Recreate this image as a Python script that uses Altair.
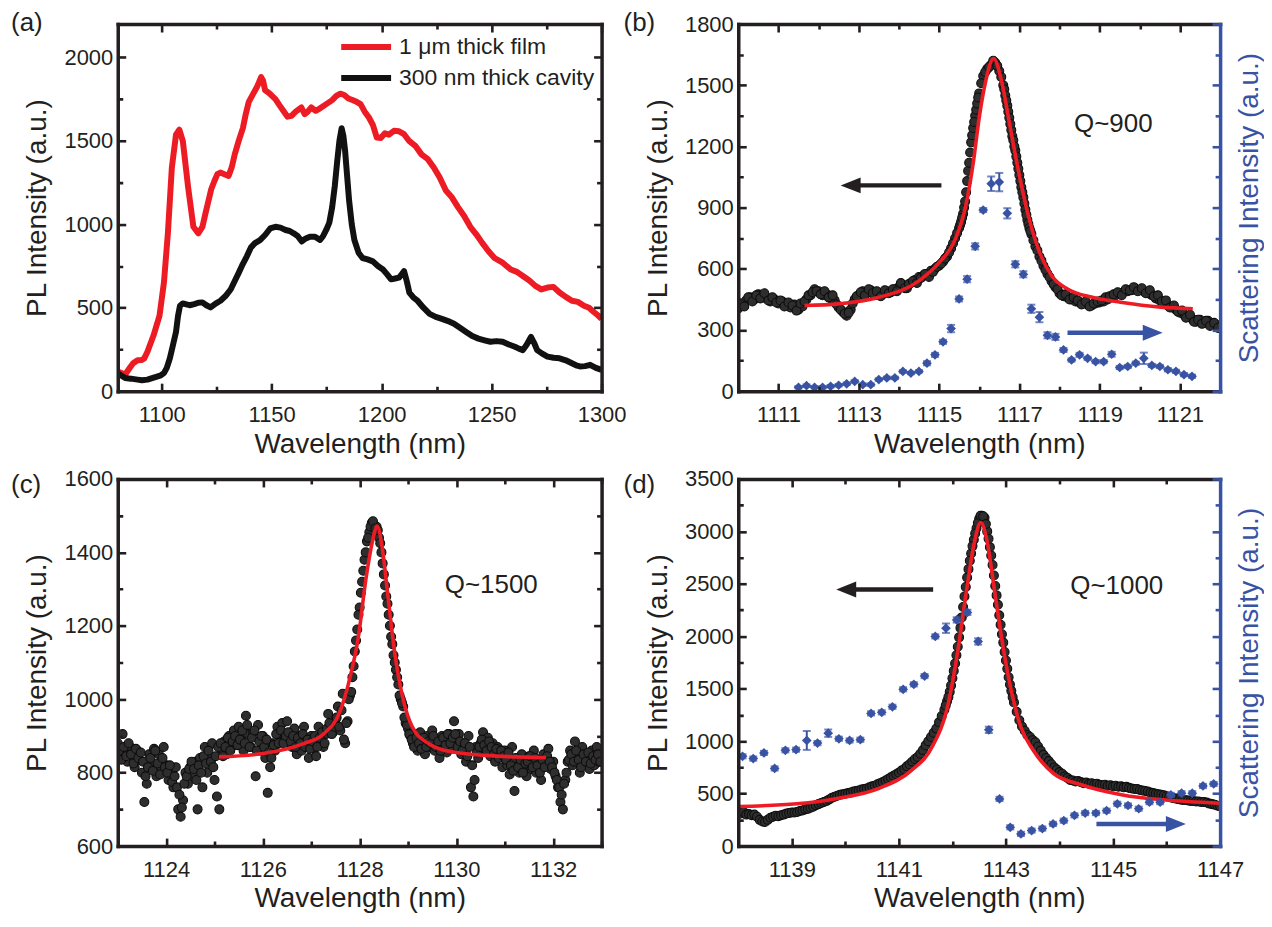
import altair as alt
import pandas as pd

INK = "#231f20"
RED = "#ed1c24"
BLUE = "#3953a4"
DOT = "#2e2e2e"
FONT = "Liberation Sans"

# ---------------- panel (a) ----------------
a_series = ["1 μm thick film", "300 nm thick cavity"]
a_film_wl = [1080, 1083.4, 1085.5, 1087, 1089, 1090.8, 1092, 1093.5, 1096.3, 1099,
             1101, 1102.8, 1104.6, 1106.5, 1108, 1109.6, 1112, 1114.4, 1116.6, 1118.5,
             1119.8, 1121.3, 1122.5, 1124, 1125.3, 1126.7, 1128.5, 1130.4, 1131.8, 1133.2,
             1135, 1136.9, 1138.2, 1139.6, 1141.5, 1143.3, 1144.2, 1145.2, 1146.1, 1147,
             1148.5, 1149.9, 1151.7, 1153.5, 1155.3, 1157.2, 1159, 1160.9, 1163.5, 1165,
             1166.4, 1168, 1170, 1172, 1174.8, 1177.5, 1179.4, 1181.2, 1183, 1184.9,
             1186.7, 1188.6, 1190.4, 1192.3, 1194.2, 1196, 1197.8, 1199.6, 1201.5, 1203.3,
             1205.6, 1207.9, 1210.2, 1212.6, 1215.3, 1218.1, 1221, 1223.7, 1226.4, 1229.2,
             1232, 1234.7, 1237.5, 1240.3, 1243, 1245.8, 1248.5, 1251.3, 1255, 1258.7,
             1261.5, 1264.2, 1267, 1269.9, 1272.6, 1275.4, 1278.1, 1280.9, 1283.7, 1286.5,
             1289.2, 1292, 1294.3, 1296.6, 1298.3, 1300]
a_film_pl = [118, 100, 140, 167, 185, 187, 195, 236, 335, 453,
             650, 946, 1340, 1537, 1567, 1498, 1222, 985, 946, 985,
             1060, 1143, 1210, 1261, 1300, 1310, 1300, 1290, 1340, 1419,
             1500, 1576, 1660, 1734, 1780, 1823, 1850, 1882, 1860, 1803,
             1790, 1773, 1750, 1714, 1680, 1645, 1650, 1675, 1700, 1660,
             1675, 1700, 1680, 1695, 1720, 1744, 1770, 1783, 1775, 1754,
             1745, 1734, 1720, 1675, 1640, 1596, 1520, 1517, 1545, 1537,
             1560, 1557, 1540, 1498, 1470, 1419, 1390, 1340, 1280, 1202,
             1160, 1103, 1050, 985, 940, 887, 840, 798, 770, 729,
             715, 690, 665, 631, 610, 621, 625, 591, 565, 542,
             535, 512, 500, 473, 455, 433]
a_cav_wl = [1080, 1083.4, 1086, 1089, 1091, 1093.5, 1096, 1098.2, 1099.6, 1101,
            1102.3, 1103.7, 1105, 1106.5, 1107.4, 1108.3, 1109.5, 1110.7, 1112.7, 1114.8,
            1116.6, 1118.5, 1120.3, 1122.2, 1124.5, 1126.7, 1129, 1131.4, 1133.2, 1135,
            1136.8, 1138.7, 1140.5, 1142.4, 1144.7, 1147, 1149.3, 1151.7, 1154, 1156.3,
            1158.2, 1160, 1161.8, 1163.7, 1165.5, 1167.4, 1169.7, 1172, 1173.4, 1174.8,
            1176.2, 1177.5, 1178.7, 1179.8, 1180.8, 1181.8, 1182.6, 1183.4, 1184.3, 1185.2,
            1186.4, 1187.6, 1189.5, 1191.3, 1193.6, 1196, 1198.3, 1200.6, 1202.5, 1204.3,
            1206.1, 1207.9, 1209.1, 1210.2, 1211.4, 1212.6, 1214.5, 1216.3, 1219, 1221.8,
            1224.6, 1227.4, 1230.2, 1232.9, 1235.6, 1238.4, 1241.2, 1244, 1246.8, 1249.5,
            1252.2, 1255, 1257.8, 1260.6, 1262.4, 1264.2, 1266, 1267.9, 1269.3, 1270.7,
            1273, 1275.4, 1278.2, 1280.9, 1283.7, 1286.5, 1288.4, 1290.2, 1292.5, 1294.8,
            1297.4, 1300]
a_cav_pl = [108, 79, 75, 69, 65, 69, 80, 89, 95, 108,
            140, 197, 270, 355, 450, 512, 525, 522, 515, 522,
            530, 532, 515, 502, 525, 542, 570, 611, 660, 709,
            760, 808, 860, 887, 905, 936, 975, 985, 980, 966,
            960, 946, 930, 897, 915, 926, 925, 906, 930, 966,
            1010, 1103, 1230, 1379, 1500, 1576, 1530, 1438, 1290, 1143,
            1000, 906, 830, 798, 790, 778, 750, 729, 700, 670,
            675, 680, 700, 719, 660, 591, 560, 542, 500, 463,
            445, 433, 420, 404, 380, 355, 330, 315, 305, 296,
            300, 296, 280, 266, 255, 246, 280, 325, 290, 246,
            225, 207, 200, 197, 185, 167, 155, 148, 150, 158,
            140, 128]
a_x_ticks = [1100, 1125, 1150, 1175, 1200, 1225, 1250, 1275, 1300]
a_x_major = [1100, 1150, 1200, 1250, 1300]
a_y_ticks = [0, 250, 500, 750, 1000, 1250, 1500, 1750, 2000]
a_y_major = [0, 500, 1000, 1500, 2000]

# ---------------- panel (b) ----------------
b_pl_start, b_pl_step = 1110.0, 0.1
b_pl = [405, 420, 445, 460, 450, 475, 470, 455, 440, 450,
        430, 440, 420, 410, 425, 400, 415, 450, 470, 500,
        490, 470, 475, 455, 445, 410, 390, 370, 400, 450,
        470, 490, 480, 495, 470, 480, 475, 490, 485, 500,
        510, 520, 505, 530, 545, 560, 565, 575, 590, 600,
        615, 635, 660, 700, 750, 800, 870, 1030, 1220, 1350,
        1460, 1545, 1580, 1600, 1610, 1570, 1500, 1400, 1280, 1180,
        1060, 950, 840, 770, 710, 660, 615, 575, 540, 510,
        480, 465, 460, 450, 440, 435, 430, 425, 420, 430,
        435, 440, 450, 465, 470, 480, 485, 490, 495, 500,
        495, 490, 480, 470, 455, 445, 430, 420, 410, 400,
        385, 375, 365, 355, 340, 350, 335, 345, 330, 325,
        320]
b_fill1_start, b_fill2_start = 1110.05, 1117.45
b_fill1 = [430, 415, 460, 440, 470, 455, 480, 445, 460, 435,
           445, 415, 435, 420, 395, 430, 440, 470, 485, 490,
           475, 490, 460, 470, 425, 400, 380, 385, 430, 465,
           485, 470, 500, 480, 490, 465, 495, 480, 500, 490,
           530, 505, 525, 540, 530, 555, 575, 560, 585, 610,
           625, 650, 680, 725, 775]
b_fill2 = [690, 640, 595, 560, 525, 500,
           470, 475, 450, 460, 445, 425, 440, 415, 430, 440,
           445, 460, 465, 475, 485, 470, 500, 495, 510, 490,
           505, 480, 495, 465, 470, 440, 445, 410, 420, 390,
           395, 360, 375, 340, 350, 330, 345, 320, 335, 310]
b_pk_wl = [1115.525, 1115.55, 1115.575, 1115.625, 1115.65, 1115.675, 1115.725, 1115.75, 1115.775, 1115.825,
           1115.85, 1115.875, 1115.925, 1115.95, 1115.975, 1116.05, 1116.15, 1116.25, 1116.35, 1116.45,
           1116.55, 1116.625, 1116.65, 1116.675, 1116.725, 1116.75, 1116.775, 1116.825, 1116.85, 1116.875,
           1116.925, 1116.95, 1116.975, 1117.025, 1117.05, 1117.075, 1117.125, 1117.15, 1117.175, 1117.225,
           1117.25, 1117.275, 1117.35]
b_pk_pl = [815, 830, 850, 900, 930, 975, 1080, 1120, 1170, 1255,
           1290, 1320, 1380, 1410, 1440, 1510, 1565, 1590, 1620, 1595,
           1540, 1480, 1450, 1425, 1370, 1340, 1310, 1250, 1230, 1200,
           1150, 1120, 1090, 1030, 1000, 975, 920, 890, 865, 820,
           800, 785, 740]
b_fit_wl = [1111.65, 1112.5, 1113.5, 1114.5, 1115, 1115.4, 1115.66, 1115.86, 1116.0, 1116.16,
            1116.36, 1116.56, 1116.76, 1116.96, 1117.21, 1117.51, 1117.81, 1118.21, 1118.82, 1119.52,
            1120.52, 1121.32]
b_fit_pl = [420, 428, 460, 541, 630, 743, 904, 1130, 1340, 1518,
            1631, 1518, 1308, 1098, 872, 678, 565, 500, 460, 436,
            412, 404]
b_sc_wl = [1111.5, 1111.7, 1111.9, 1112.1, 1112.3, 1112.5, 1112.7, 1112.9, 1113.1, 1113.3,
           1113.5, 1113.7, 1113.9, 1114.1, 1114.3, 1114.5, 1114.7, 1114.9, 1115.1, 1115.3,
           1115.5, 1115.7, 1115.9, 1116.1, 1116.3, 1116.5, 1116.7, 1116.9, 1117.1, 1117.3,
           1117.5, 1117.7, 1117.9, 1118.1, 1118.3, 1118.5, 1118.7, 1118.9, 1119.1, 1119.3,
           1119.5, 1119.7, 1119.9, 1120.1, 1120.3, 1120.5, 1120.7, 1120.9, 1121.1, 1121.3]
b_sc = [19, 27, 19, 19, 24, 29, 36, 48, 32, 32,
        57, 65, 65, 97, 89, 97, 137, 178, 242, 307,
        452, 549, 710, 888, 1017, 1025, 872, 622, 573, 404,
        363, 274, 266, 202, 153, 178, 161, 145, 145, 181,
        116, 121, 137, 161, 126, 121, 105, 97, 81, 73]
b_sc_err = [6, 6, 6, 6, 6, 6, 6, 6, 6, 6,
            6, 6, 6, 6, 6, 6, 10, 10, 10, 18,
            12, 15, 15, 10, 35, 45, 25, 15, 15, 20,
            25, 15, 15, 10, 8, 10, 8, 8, 8, 12,
            8, 8, 8, 28, 8, 8, 8, 8, 8, 8]
b_x_ticks = [1110, 1111, 1112, 1113, 1114, 1115, 1116, 1117, 1118, 1119, 1120, 1121, 1122]
b_x_major = [1111, 1113, 1115, 1117, 1119, 1121]
b_y_ticks = [0, 150, 300, 450, 600, 750, 900, 1050, 1200, 1350, 1500, 1650, 1800]
b_y_major = [0, 300, 600, 900, 1200, 1500, 1800]

# ---------------- panel (c) ----------------
c_pl_start, c_pl_step = 1123.0, 0.05
c_pl = [880, 850, 905, 860, 830, 870, 845, 815, 860, 835,
        800, 720, 770, 850, 820, 865, 790, 850, 810, 870,
        820, 780, 805, 760, 815, 700, 680, 725, 800, 770,
        815, 790, 830, 700, 840, 760, 870, 800, 845, 880,
        780, 735, 700, 860, 885, 850, 900, 870, 915, 880,
        925, 890, 860, 955, 905, 870, 910, 790, 930, 860,
        900, 840, 745, 815, 880, 860, 925, 900, 935, 890,
        940, 905, 870, 920, 850, 900, 860, 925, 880, 840,
        900, 865, 845, 925, 880, 870, 905, 960, 930, 910,
        945, 980, 915, 1015, 880, 940, 1010, 1060, 1130, 1190,
        1250, 1320, 1380, 1430, 1455, 1480, 1475, 1470, 1440, 1400,
        1340, 1280, 1230, 1170, 1120, 1080, 1040, 1000, 980, 935,
        920, 900, 880, 905, 860, 910, 880, 850, 900, 870,
        915, 860, 890, 840, 900, 870, 855, 905, 865, 940,
        880, 905, 850, 870, 830, 900, 760, 735, 870, 840,
        880, 910, 860, 895, 845, 880, 830, 870, 850, 815,
        860, 820, 795, 870, 750, 830, 800, 850, 815, 790,
        845, 810, 860, 800, 835, 780, 850, 820, 865, 810,
        830, 790, 760, 720, 700, 780, 830, 860, 820, 885,
        850, 800, 870, 830, 845, 810, 860, 820, 870, 830,
        845]
c_fill1_start, c_fill2_start = 1123.025, 1128.975
c_fill1 = [860, 835, 870, 845, 880, 850, 825, 865, 840, 855,
           830, 790, 815, 840, 805, 860, 825, 795, 840, 815,
           800, 820, 775, 790, 760, 740, 705, 770, 790, 810,
           830, 810, 780, 820, 800, 845, 825, 860, 830, 815,
           845, 870, 880, 845, 870, 895, 860, 885, 900, 875,
           890, 915, 880, 930, 870, 895, 915, 860, 885, 900,
           870, 890, 855, 840, 875, 905, 880, 915, 880, 900,
           910, 885, 900, 870, 895, 880, 905, 870, 890, 865,
           885, 900, 870, 895, 910, 880, 920, 935, 905, 925,
           950, 925, 970]
c_fill2 = [930, 905, 890, 870, 895, 880, 865, 895, 870, 885,
           880, 900, 870, 885, 860, 895, 875, 905, 880, 895,
           905, 870, 885, 860, 880, 845, 870, 820, 780, 855,
           870, 890, 875, 860, 885, 870, 850, 865, 840, 860,
           845, 835, 855, 820, 805, 840, 815, 835, 800, 825,
           830, 845, 815, 840, 820, 800, 835, 815, 845, 830,
           815, 800, 780, 760, 740, 770, 800, 835, 850, 830,
           860, 835, 815, 850, 830, 855, 825, 845, 835, 850,
           830]
c_pk_wl = [1127.675, 1127.725, 1127.775, 1127.825, 1127.875, 1127.925, 1127.975, 1128.025, 1128.075, 1128.125,
           1128.175, 1128.225, 1128.275, 1128.325, 1128.375, 1128.425, 1128.475, 1128.525, 1128.575, 1128.625,
           1128.675, 1128.725, 1128.775, 1128.825, 1128.875, 1128.925]
c_pk_pl = [890, 935, 1000, 1020, 1090, 1160, 1230, 1290, 1350, 1400,
           1440, 1470, 1485, 1465, 1460, 1425, 1370, 1310, 1260, 1200,
           1150, 1100, 1060, 1010, 990, 950]
c_fit_wl = [1125.09, 1126, 1126.84, 1127.26, 1127.6, 1127.8, 1127.97, 1128.13, 1128.26, 1128.36,
            1128.47, 1128.59, 1128.72, 1128.89, 1129.09, 1129.43, 1129.93, 1130.6, 1131.85]
c_fit_pl = [843, 852, 879, 906, 969, 1059, 1167, 1328, 1427, 1472,
            1409, 1274, 1131, 1005, 924, 879, 856, 847, 841]
c_x_ticks = [1123, 1124, 1125, 1126, 1127, 1128, 1129, 1130, 1131, 1132, 1133]
c_x_major = [1124, 1126, 1128, 1130, 1132]
c_y_ticks = [600, 700, 800, 900, 1000, 1100, 1200, 1300, 1400, 1500, 1600]
c_y_major = [600, 800, 1000, 1200, 1400, 1600]

# ---------------- panel (d) ----------------
d_pl_start, d_pl_step = 1138.0, 0.05
d_pl = [320, 310, 325, 300, 305, 295, 300, 280, 250, 235,
        230, 250, 270, 280, 290, 285, 295, 300, 310, 315,
        320, 320, 325, 335, 340, 350, 355, 365, 375, 390,
        400, 410, 420, 430, 445, 460, 470, 480, 490, 495,
        500, 505, 510, 520, 525, 530, 540, 545, 550, 560,
        570, 575, 590, 600, 610, 625, 640, 655, 670, 685,
        700, 720, 735, 760, 780, 805, 830, 850, 880, 915,
        960, 1000, 1040, 1080, 1120, 1180, 1240, 1300, 1380, 1470,
        1600, 1740, 1900, 2080, 2280, 2470, 2640, 2790, 2920, 3030,
        3120, 3150, 3130, 3000, 2850, 2680, 2480, 2300, 2110, 1940,
        1770, 1610, 1480, 1370, 1280, 1200, 1140, 1100, 1060, 1040,
        1010, 990, 950, 910, 870, 840, 810, 780, 750, 730,
        705, 690, 665, 650, 630, 625, 615, 620, 610, 600,
        605, 595, 600, 590, 595, 585, 580, 585, 575, 580,
        570, 575, 565, 570, 560, 565, 555, 550, 545, 545,
        535, 530, 525, 520, 510, 505, 500, 495, 490, 485,
        475, 470, 460, 455, 450, 445, 440, 440, 435, 430,
        430, 425, 425, 420, 420, 415, 405, 400, 395, 385,
        380]
d_pk_wl = [1141.875, 1141.925, 1141.975, 1142.025, 1142.075, 1142.125, 1142.175, 1142.225, 1142.275, 1142.325,
           1142.375, 1142.425, 1142.475, 1142.525, 1142.575, 1142.625, 1142.675, 1142.725, 1142.775, 1142.825,
           1142.875, 1142.925, 1142.975, 1143.025, 1143.075, 1143.125]
d_pk_pl = [1340, 1420, 1530, 1670, 1820, 1990, 2180, 2380, 2560, 2720,
           2860, 2980, 3080, 3150, 3145, 3070, 2930, 2770, 2580, 2390,
           2200, 2020, 1850, 1690, 1540, 1420]
d_fit_wl = [1138, 1139.1, 1139.87, 1140.63, 1141.24, 1141.62, 1141.92, 1142.1, 1142.26, 1142.41,
            1142.53, 1142.64, 1142.79, 1142.94, 1143.1, 1143.28, 1143.51, 1143.89, 1144.42, 1145.18,
            1145.94, 1147]
d_fit_pl = [378, 403, 456, 551, 724, 944, 1354, 1857, 2424, 2896,
            3085, 2927, 2424, 1920, 1479, 1133, 913, 692, 582, 488,
            441, 409]
d_sc_wl = [1138.08, 1138.28, 1138.48, 1138.68, 1138.88, 1139.08, 1139.28, 1139.48, 1139.68, 1139.88,
           1140.08, 1140.28, 1140.48, 1140.68, 1140.88, 1141.08, 1141.28, 1141.48, 1141.68, 1141.88,
           1142.08, 1142.28, 1142.48, 1142.68, 1142.88, 1143.08, 1143.28, 1143.48, 1143.68, 1143.88,
           1144.08, 1144.28, 1144.48, 1144.68, 1144.88, 1145.08, 1145.28, 1145.48, 1145.68, 1145.88,
           1146.08, 1146.28, 1146.48, 1146.68, 1146.88]
d_sc = [856, 834, 888, 740, 913, 919, 1007, 982, 1076, 1023,
        1007, 1014, 1265, 1275, 1328, 1495, 1542, 1621, 1999, 2077,
        2156, 2228, 1951, 1108, 450, 179, 116, 148, 167, 211,
        242, 293, 315, 315, 337, 403, 387, 356, 419, 419,
        488, 504, 504, 573, 592]
d_sc_err = [20, 20, 20, 20, 20, 20, 90, 20, 35, 20,
            20, 20, 20, 20, 20, 20, 20, 20, 20, 45,
            25, 25, 30, 30, 20, 20, 20, 20, 20, 20,
            20, 20, 20, 20, 20, 20, 20, 20, 20, 20,
            20, 20, 20, 20, 20]
d_x_ticks = [1138, 1139, 1140, 1141, 1142, 1143, 1144, 1145, 1146, 1147]
d_x_major = [1139, 1141, 1143, 1145, 1147]
d_y_ticks = [0, 250, 500, 750, 1000, 1250, 1500, 1750, 2000, 2250, 2500, 2750, 3000, 3250, 3500]
d_y_major = [0, 500, 1000, 1500, 2000, 2500, 3000, 3500]

# annotations (data coordinates): tail, shaft end, tip, level
b_arrows = {"black": (1115.06, 1112.85, 1112.55, 1009), "blue": (1118.2, 1120.27, 1120.57, 286)}
d_arrows = {"black": (1141.64, 1140.08, 1139.83, 2446), "blue": (1144.69, 1146.06, 1146.36, 211)}
q_labels = {"b": (1119.34, 1308, "Q~900"), "c": (1130.72, 1310, "Q~1500"), "d": (1145.07, 2480, "Q~1000")}
panel_tags = ["(a)", "(b)", "(c)", "(d)"]

WL = "Wavelength (nm)"
PLT = "PL Intensity (a.u.)"
SCT = "Scattering Intensity (a.u.)"
LEFT_HEAD = "M0,0L2,-0.8L2,0.8Z"
RIGHT_HEAD = "M0,0L-2,-0.8L-2,0.8Z"
W1, W2, H = 485, 483, 368
TK = 8  # major tick length (minor ones are drawn 5 px long through a dash pattern)


def grid(start, step, values):
    return [round(start + step * i, 4) for i in range(len(values))]


def base_axis(orient, ticks, majors, color, minor_dash):
    minor_test = "indexof(%s, datum.value) < 0" % majors
    return dict(orient=orient, values=ticks, grid=False, zindex=1,
                domainColor=color, domainWidth=3.5, domainCap="square",
                tickColor=color, tickWidth=2.6, tickCap="butt", tickSize=TK,
                tickDash={"condition": {"test": minor_test, "value": minor_dash}, "value": []})


def label_axis(orient, ticks, majors, title, label_padding, title_padding):
    p = base_axis(orient, ticks, majors, INK, [5, 60])
    p.update(domain=True, ticks=False, labels=True, format="d",
             labelExpr="indexof(%s, datum.value) >= 0 ? datum.label : ''" % majors,
             labelFont=FONT, labelFontSize=22, labelColor=INK, labelPadding=label_padding,
             labelFlush=False, labelOverlap=False,
             title=title, titleFont=FONT, titleFontSize=28, titleFontWeight="normal",
             titleColor=INK, titlePadding=title_padding)
    return alt.Axis(**p)


def domain_axis(orient, ticks, majors, color=INK, title=None):
    p = base_axis(orient, ticks, majors, color, [5, 60])
    p.update(domain=True, ticks=False, labels=False, minExtent=0, maxExtent=0)
    if title:
        p.update(title=title, titleFont=FONT, titleFontSize=28, titleFontWeight="normal",
                 titleColor=color, titlePadding=15, titleAngle=270, titleBaseline="top")
    else:
        p["title"] = None
    return alt.Axis(**p)


def tick_axis(orient, ticks, majors, offset, minor_dash, color=INK):
    # an axis moved inside the frame so that its ticks sit on the inner side of an edge
    p = base_axis(orient, ticks, majors, color, minor_dash)
    p.update(domain=False, ticks=True, labels=False, offset=offset, minExtent=0, maxExtent=0,
             title=None)
    return alt.Axis(**p)


def carriers(df, xs, ys, xt, xm, yt, ym, width, right_color=INK, right_title=None):
    base = alt.Chart(df).mark_point(opacity=0, size=1)
    near = [0, 3, 5, 60]   # minor tick kept next to the frame
    far = [5, 60]
    specs = [
        (label_axis("bottom", xt, xm, WL, 13, 5), label_axis("left", yt, ym, PLT, 5, 12)),
        (domain_axis("top", xt, xm), domain_axis("right", yt, ym, right_color, right_title)),
        (tick_axis("bottom", xt, xm, -TK, near), tick_axis("left", yt, ym, -TK, near)),
        (tick_axis("bottom", xt, xm, -H, far), tick_axis("left", yt, ym, -width, far, right_color)),
    ]
    return [base.encode(x=alt.X("wl:Q", scale=xs, axis=ax_x), y=alt.Y("pl:Q", scale=ys, axis=ax_y))
            for ax_x, ax_y in specs]


def tag(text, dx, dy):
    df = pd.DataFrame({"t": [text]})
    return alt.Chart(df).mark_text(font=FONT, fontSize=26, color=INK, align="left",
                                   baseline="top").encode(
        x=alt.value(dx), y=alt.value(dy), text="t:N")


def dots(df, xs, ys):
    return alt.Chart(df).mark_point(filled=True, shape="circle", size=80, fill=DOT, stroke="#0e0e0e",
                                    strokeWidth=1.1, opacity=1, clip=True).encode(
        x=alt.X("wl:Q", scale=xs, axis=None), y=alt.Y("pl:Q", scale=ys, axis=None))


def fit(df, xs, ys):
    return alt.Chart(df).mark_line(color=RED, strokeWidth=3.6, interpolate="monotone", clip=True).encode(
        x=alt.X("wl:Q", scale=xs, axis=None), y=alt.Y("pl:Q", scale=ys, axis=None))


def scatter_layers(df, xs, ys):
    bars = alt.Chart(df).mark_rule(color=BLUE, strokeWidth=2).encode(
        x=alt.X("wl:Q", scale=xs, axis=None), y=alt.Y("lo:Q", scale=ys, axis=None), y2="hi:Q")
    cap_lo = alt.Chart(df).mark_tick(color=BLUE, orient="horizontal", size=8, thickness=2).encode(
        x=alt.X("wl:Q", scale=xs, axis=None), y=alt.Y("lo:Q", scale=ys, axis=None))
    cap_hi = alt.Chart(df).mark_tick(color=BLUE, orient="horizontal", size=8, thickness=2).encode(
        x=alt.X("wl:Q", scale=xs, axis=None), y=alt.Y("hi:Q", scale=ys, axis=None))
    pts = alt.Chart(df).mark_point(shape="diamond", filled=True, size=95, color=BLUE, opacity=1).encode(
        x=alt.X("wl:Q", scale=xs, axis=None), y=alt.Y("sc:Q", scale=ys, axis=None))
    return [bars, cap_lo, cap_hi, pts]


def arrow_layers(spec, xs, ys):
    out = []
    for name, (tail, shaft_end, tip, yv) in spec.items():
        col = INK if name == "black" else BLUE
        head = LEFT_HEAD if tip < tail else RIGHT_HEAD
        df = pd.DataFrame({"x": [tail], "x2": [shaft_end], "tip": [tip], "y": [yv]})
        out.append(alt.Chart(df).mark_rule(color=col, strokeWidth=4.5).encode(
            x=alt.X("x:Q", scale=xs, axis=None), x2="x2:Q", y=alt.Y("y:Q", scale=ys, axis=None)))
        out.append(alt.Chart(df).mark_point(shape=head, filled=True, size=400, color=col, opacity=1).encode(
            x=alt.X("tip:Q", scale=xs, axis=None), y=alt.Y("y:Q", scale=ys, axis=None)))
    return out


def q_text(key, xs, ys):
    x, y, t = q_labels[key]
    df = pd.DataFrame({"x": [x], "y": [y], "t": [t]})
    return alt.Chart(df).mark_text(font=FONT, fontSize=26, color=INK, align="center", baseline="middle").encode(
        x=alt.X("x:Q", scale=xs, axis=None), y=alt.Y("y:Q", scale=ys, axis=None), text="t:N")


def assemble(layers, width):
    return alt.layer(*layers).resolve_axis(x="independent", y="independent").properties(
        width=width, height=H)


# ---- (a)
xs_a = alt.Scale(domain=[1080, 1300], nice=False, zero=False)
ys_a = alt.Scale(domain=[0, 2200], nice=False, zero=False)
legend_a = alt.Legend(title=None, orient="none", legendX=236, legendY=10, direction="vertical",
                      symbolType="M-2.5,0H2.5", symbolSize=400, symbolStrokeWidth=6,
                      labelFont=FONT, labelFontSize=23, labelColor=INK, labelOffset=20,
                      labelLimit=400, rowPadding=6, padding=0)
color_a = alt.Color("series:N", scale=alt.Scale(domain=a_series, range=[RED, "#111111"]), legend=legend_a)
film_df = pd.DataFrame({"wl": a_film_wl, "pl": a_film_pl, "series": a_series[0]}).sort_values("wl")
cav_df = pd.DataFrame({"wl": a_cav_wl, "pl": a_cav_pl, "series": a_series[1]}).sort_values("wl")
la1 = alt.Chart(film_df).mark_line(strokeWidth=6, strokeJoin="round", clip=True).encode(
    x=alt.X("wl:Q", scale=xs_a, axis=None), y=alt.Y("pl:Q", scale=ys_a, axis=None), color=color_a)
la2 = alt.Chart(cav_df).mark_line(strokeWidth=6, strokeJoin="round", clip=True).encode(
    x=alt.X("wl:Q", scale=xs_a, axis=None), y=alt.Y("pl:Q", scale=ys_a, axis=None), color=color_a)
pa = assemble(carriers(film_df, xs_a, ys_a, a_x_ticks, a_x_major, a_y_ticks, a_y_major, W1)
              + [la1, la2, tag(panel_tags[0], -107, -14)], W1)

# ---- (b)
xs_b = alt.Scale(domain=[1110, 1122], nice=False, zero=False)
ys_b = alt.Scale(domain=[0, 1800], nice=False, zero=False)
b_dots_df = pd.DataFrame({
    "wl": grid(b_pl_start, b_pl_step, b_pl) + grid(b_fill1_start, b_pl_step, b_fill1)
    + grid(b_fill2_start, b_pl_step, b_fill2) + b_pk_wl,
    "pl": b_pl + b_fill1 + b_fill2 + b_pk_pl})
b_fit_df = pd.DataFrame({"wl": b_fit_wl, "pl": b_fit_pl})
b_sc_df = pd.DataFrame({"wl": b_sc_wl, "sc": b_sc,
                        "lo": [v - e for v, e in zip(b_sc, b_sc_err)],
                        "hi": [v + e for v, e in zip(b_sc, b_sc_err)]})
pb = assemble(carriers(b_dots_df, xs_b, ys_b, b_x_ticks, b_x_major, b_y_ticks, b_y_major, W2, BLUE, SCT)
              + [dots(b_dots_df, xs_b, ys_b), fit(b_fit_df, xs_b, ys_b)]
              + scatter_layers(b_sc_df, xs_b, ys_b) + arrow_layers(b_arrows, xs_b, ys_b)
              + [q_text("b", xs_b, ys_b), tag(panel_tags[1], -115, -14)], W2)

# ---- (c)
xs_c = alt.Scale(domain=[1123, 1133], nice=False, zero=False)
ys_c = alt.Scale(domain=[600, 1600], nice=False, zero=False)
c_dots_df = pd.DataFrame({
    "wl": grid(c_pl_start, c_pl_step, c_pl) + grid(c_fill1_start, c_pl_step, c_fill1)
    + grid(c_fill2_start, c_pl_step, c_fill2) + c_pk_wl,
    "pl": c_pl + c_fill1 + c_fill2 + c_pk_pl})
c_fit_df = pd.DataFrame({"wl": c_fit_wl, "pl": c_fit_pl})
pc = assemble(carriers(c_dots_df, xs_c, ys_c, c_x_ticks, c_x_major, c_y_ticks, c_y_major, W1)
              + [dots(c_dots_df, xs_c, ys_c), fit(c_fit_df, xs_c, ys_c), q_text("c", xs_c, ys_c),
                 tag(panel_tags[2], -107, -7)], W1)

# ---- (d)
xs_d = alt.Scale(domain=[1138, 1147], nice=False, zero=False)
ys_d = alt.Scale(domain=[0, 3500], nice=False, zero=False)
d_dots_df = pd.DataFrame({"wl": grid(d_pl_start, d_pl_step, d_pl) + d_pk_wl, "pl": d_pl + d_pk_pl})
d_fit_df = pd.DataFrame({"wl": d_fit_wl, "pl": d_fit_pl})
d_sc_df = pd.DataFrame({"wl": d_sc_wl, "sc": d_sc,
                        "lo": [v - e for v, e in zip(d_sc, d_sc_err)],
                        "hi": [v + e for v, e in zip(d_sc, d_sc_err)]})
pd_ = assemble(carriers(d_dots_df, xs_d, ys_d, d_x_ticks, d_x_major, d_y_ticks, d_y_major, W2, BLUE, SCT)
               + [dots(d_dots_df, xs_d, ys_d), fit(d_fit_df, xs_d, ys_d)]
               + scatter_layers(d_sc_df, xs_d, ys_d) + arrow_layers(d_arrows, xs_d, ys_d)
               + [q_text("d", xs_d, ys_d), tag(panel_tags[3], -115, -7)], W2)

chart = alt.concat(pa, pb, pc, pd_, columns=2, spacing={"row": 88, "column": 137},
                   bounds="flush").properties(
    padding={"left": 2, "top": 0, "right": 0, "bottom": 0}
).configure_view(stroke=None).configure(font=FONT)

chart.save("out.html", embed_options={"renderer": "svg", "actions": False})
